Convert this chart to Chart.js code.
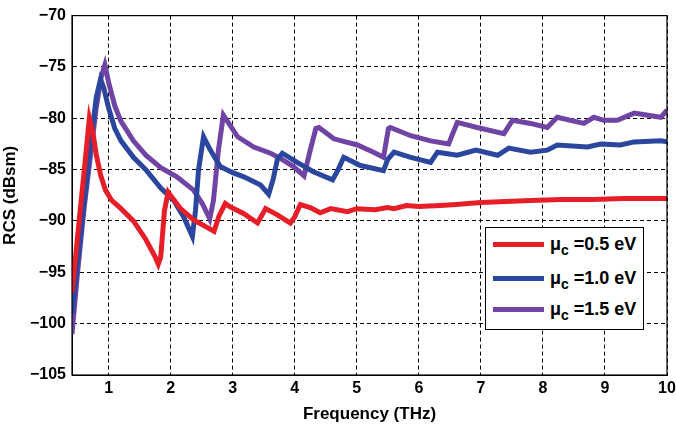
<!DOCTYPE html>
<html>
<head>
<meta charset="utf-8">
<script src="https://cdn.jsdelivr.net/npm/chart.js@4/dist/chart.umd.min.js"></script>
<style>
  html, body { margin: 0; padding: 0; background: #fff; }
  #wrap { position: relative; width: 676px; height: 425px; }
  #legend {
    position: absolute; left: 485px; top: 227px; width: 157px; height: 101px;
    border: 1px solid #000; background: #fff;
    font-family: "Liberation Sans", Arial, sans-serif; font-weight: bold; font-size: 18px; color: #000;
  }
  .item { position: absolute; left: 0; height: 20px; width: 157px; }
  .sw { position: absolute; left: 7px; top: 8px; width: 51px; height: 5px; }
  .lab { position: absolute; left: 64px; top: 0px; white-space: nowrap; line-height: 20px; }
  .lab sub { font-size: 14px; vertical-align: -5px; line-height: 0; }
</style>
</head>
<body>
<div id="wrap">
  <canvas id="c" width="676" height="425"></canvas>
  <div id="legend"></div>
</div>
<script>
// ---- data ----
const seriesNames = ["0.5 eV", "1.0 eV", "1.5 eV"];
const seriesColors = ["#e61e28", "#2a469e", "#7044a4"];

const freqA = [0.41,0.5,0.6,0.69,0.75,0.8,0.87,0.95,1.05,1.2,1.4,1.6,1.75,1.8,1.84,1.9,1.96,2.16,2.37,2.55,2.7,2.78,2.88,2.95,3.18,3.4,3.53,3.72,3.93,4.0,4.09,4.25,4.41,4.58,4.85,5.0,5.3,5.49,5.6,5.8,6.0,6.35,6.6,7.0,7.4,7.8,8.3,8.8,9.3,10];
const rcsA  = [-97,-91.5,-85.5,-80,-81.5,-83.5,-85.5,-87,-88,-88.8,-90,-91.8,-93.5,-94.2,-93.5,-89,-87.2,-88.8,-89.9,-90.5,-91,-89.5,-88.3,-88.6,-89.3,-90.2,-88.8,-89.4,-90.2,-89.6,-88.4,-88.7,-89.2,-88.8,-89.1,-88.8,-88.9,-88.7,-88.8,-88.5,-88.6,-88.5,-88.4,-88.2,-88.1,-88.0,-87.9,-87.9,-87.8,-87.8];

const freqB = [0.41,0.5,0.6,0.7,0.8,0.87,0.92,1.0,1.1,1.2,1.4,1.6,1.84,2.05,2.21,2.35,2.4,2.45,2.53,2.64,2.8,3.0,3.18,3.45,3.58,3.65,3.72,3.8,4.04,4.3,4.61,4.7,4.79,5.06,5.43,5.5,5.6,5.87,6.19,6.3,6.62,6.92,7.27,7.45,7.8,8.07,8.23,8.72,8.93,9.25,9.47,9.9,10];
const rcsB  = [-99,-94,-88.5,-83,-78,-76.2,-77,-79,-81,-82.2,-83.8,-85,-86.8,-88,-89.6,-91.5,-89,-85,-81.8,-83.1,-84.7,-85.3,-85.7,-86.5,-87.4,-86,-84,-83.4,-84.3,-85.2,-86,-85,-83.8,-84.6,-85.1,-84,-83.3,-83.8,-84.3,-83.3,-83.6,-83.1,-83.6,-82.9,-83.3,-83.1,-82.6,-82.8,-82.5,-82.6,-82.3,-82.2,-82.3];

const freqC = [0.41,0.5,0.6,0.7,0.8,0.88,0.94,1.0,1.1,1.2,1.4,1.6,1.84,2.1,2.37,2.51,2.63,2.69,2.77,2.85,3.08,3.34,3.61,3.77,3.98,4.15,4.25,4.34,4.39,4.63,5.01,5.27,5.43,5.51,5.54,5.87,6.19,6.48,6.62,6.94,7.37,7.51,7.8,8.07,8.23,8.66,8.82,8.98,9.2,9.47,9.9,10];
const rcsC  = [-101,-95,-89,-84,-79,-76,-74.8,-76.5,-78.8,-80.3,-82.2,-83.6,-84.8,-85.7,-87,-88.3,-89.8,-88,-83.1,-79.7,-81.8,-82.8,-83.4,-83.9,-84.7,-85.6,-83.1,-81,-80.9,-82,-82.6,-83.3,-83.8,-81,-80.9,-81.7,-82.2,-82.5,-80.4,-80.9,-81.5,-80.2,-80.5,-80.9,-79.9,-80.5,-79.9,-80.2,-80.2,-79.5,-79.9,-79.2];

const xTicks = [1,2,3,4,5,6,7,8,9,10];
const yTicks = [-105,-100,-95,-90,-85,-80,-75,-70];
const xTitle = "Frequency (THz)";
const yTitle = "RCS (dBsm)";

// ---- build ----
const pairs = (xs, ys) => xs.map((x, i) => ({ x: x, y: ys[i] }));
const allX = [freqA, freqB, freqC];
const allY = [rcsA, rcsB, rcsC];

const datasets = seriesNames.map((n, i) => ({
  label: "\u03bcc = " + n,
  data: pairs(allX[i], allY[i]),
  borderColor: seriesColors[i],
  backgroundColor: seriesColors[i],
  borderWidth: 5,
  pointRadius: 0,
  tension: 0,
  fill: false
}));

const font = { family: "'Liberation Sans', Arial, sans-serif", weight: "bold", size: 16 };

const frame = {
  id: "frame",
  afterDatasetsDraw(chart) {
    const a = chart.chartArea, ctx = chart.ctx;
    ctx.save();
    ctx.strokeStyle = "#000";
    ctx.lineWidth = 1.2;
    ctx.strokeRect(a.left, a.top, a.right - a.left, a.bottom - a.top);
    ctx.restore();
  }
};

new Chart(document.getElementById("c"), {
  type: "line",
  data: { datasets: datasets },
  options: {
    responsive: false,
    animation: false,
    layout: { padding: { top: 15, right: 0, left: 0, bottom: 0 } },
    plugins: { legend: { display: false }, tooltip: { enabled: false } },
    scales: {
      x: {
        type: "linear", min: 0.41, max: 10,
        afterBuildTicks: s => { s.ticks = xTicks.map(v => ({ value: v })); },
        afterFit: s => { s.height = 50; s.paddingRight = 9; s.paddingLeft = 0; },
        ticks: { color: "#000", font: font, padding: 4, maxRotation: 0 },
        grid: { color: "#000", lineWidth: 1, drawTicks: false },
        border: { display: true, color: "#000", dash: [4, 3] },
        title: { display: true, text: xTitle, color: "#000", padding: { top: 2, bottom: 0 },
                 font: { family: font.family, weight: "bold", size: 17 } }
      },
      y: {
        type: "linear", min: -105, max: -70,
        afterBuildTicks: s => { s.ticks = yTicks.map(v => ({ value: v })); },
        afterFit: s => { s.width = 72; },
        ticks: { color: "#000", font: font, padding: 6,
                 callback: v => String(v).replace("-", "\u2212") },
        grid: { color: "#000", lineWidth: 1, drawTicks: false },
        border: { display: true, color: "#000", dash: [4, 3] },
        title: { display: true, text: yTitle, color: "#000", padding: { top: 0, bottom: 4 },
                 font: { family: font.family, weight: "bold", size: 17 } }
      }
    }
  },
  plugins: [frame]
});

// HTML legend (real text with subscript)
const leg = document.getElementById("legend");
const rowsTop = [6, 40, 71];
seriesNames.forEach((n, i) => {
  const it = document.createElement("div");
  it.className = "item";
  it.style.top = rowsTop[i] + "px";
  const sw = document.createElement("div");
  sw.className = "sw";
  sw.style.background = seriesColors[i];
  const lab = document.createElement("div");
  lab.className = "lab";
  lab.innerHTML = "\u03bc<sub>c</sub> =" + n;
  it.appendChild(sw); it.appendChild(lab);
  leg.appendChild(it);
});
</script>
</body>
</html>
